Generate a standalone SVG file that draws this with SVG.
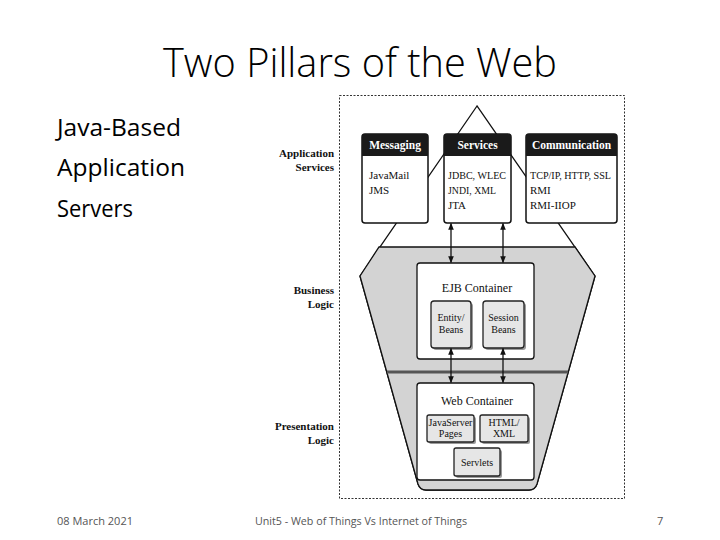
<svg xmlns="http://www.w3.org/2000/svg" width="720" height="540" viewBox="0 0 720 540">
<defs>
<style>
.slide{font-family:"Open Sans","Noto Sans","Liberation Sans",sans-serif;fill:#000}
.foot{font-family:"Open Sans","Liberation Sans",sans-serif;font-size:11px;fill:#555}
.lbl{font-family:"Liberation Serif","DejaVu Serif",serif;font-size:11px;font-weight:bold;fill:#111;text-anchor:end}
.hd{font-family:"Liberation Serif","DejaVu Serif",serif;font-size:11.5px;font-weight:bold;fill:#fff;text-anchor:middle}
.bt{font-family:"Liberation Serif","DejaVu Serif",serif;font-size:11px;fill:#111}
.ct{font-family:"Liberation Serif","DejaVu Serif",serif;font-size:12px;fill:#111;text-anchor:middle}
.st{font-family:"Liberation Serif","DejaVu Serif",serif;font-size:10px;fill:#111;text-anchor:middle}
.box{fill:#fff;stroke:#111;stroke-width:1.5}
.cont{fill:#fff;stroke:#111;stroke-width:1.3}
.sub{fill:#e6e6e6;stroke:#222;stroke-width:1.3}
.shadow{fill:#9a9a9a}
.arr{stroke:#111;stroke-width:1.3;fill:none;marker-start:url(#ah);marker-end:url(#ah)}
</style>
<marker id="ah" viewBox="0 0 10 10" refX="9" refY="5" markerWidth="7" markerHeight="9" orient="auto-start-reverse" markerUnits="userSpaceOnUse">
<path d="M0,1 L10,5 L0,9 Z" fill="#111"/>
</marker>
</defs>
<rect width="720" height="540" fill="#fff"/>

<text class="slide" x="360" y="77" font-size="40" text-anchor="middle" textLength="394" lengthAdjust="spacingAndGlyphs" font-weight="300">Two Pillars of the Web</text>
<text class="slide" x="57" y="136" font-size="24" textLength="124" lengthAdjust="spacingAndGlyphs">Java-Based</text>
<text class="slide" x="57" y="176" font-size="24" textLength="128" lengthAdjust="spacingAndGlyphs">Application</text>
<text class="slide" x="57" y="217" font-size="24" textLength="76" lengthAdjust="spacingAndGlyphs">Servers</text>

<text class="foot" x="57" y="525">08 March 2021</text>
<text class="foot" x="361" y="525" text-anchor="middle" textLength="212" lengthAdjust="spacingAndGlyphs">Unit5 - Web of Things Vs Internet of Things</text>
<text class="foot" x="657" y="525">7</text>

<!-- dotted frame -->
<rect x="339.5" y="95.5" width="285" height="403" fill="none" stroke="#333" stroke-width="1" stroke-dasharray="2,1.5"/>

<!-- layer labels -->
<g id="lbl-app"><text class="lbl" x="334" y="157">Application</text><text class="lbl" x="334" y="171">Services</text></g>
<g id="lbl-bus"><text class="lbl" x="334" y="294">Business</text><text class="lbl" x="334" y="308">Logic</text></g>
<g id="lbl-pres"><text class="lbl" x="334" y="430">Presentation</text><text class="lbl" x="334" y="444">Logic</text></g>

<!-- hull -->
<g id="hull">
<path d="M477,106 L360,276 L418,484 Q420,490 426,490 L529,490 Q535,490 537,484 L595,276 Z" fill="#fff" stroke="#111" stroke-width="1.3"/>
<path d="M379,247 L575,247 L595,276 L537,484 Q535,490 529,490 L426,490 Q420,490 418,484 L360,276 Z" fill="#d3d3d3" stroke="#111" stroke-width="1.3"/>
<line x1="387" y1="372" x2="568" y2="372" stroke="#555" stroke-width="3"/>
</g>

<!-- application services boxes -->
<g id="messaging">
<rect class="box" x="362" y="134" width="66" height="89" rx="3"/>
<path d="M362,156 L362,137 Q362,134 365,134 L425,134 Q428,134 428,137 L428,156 Z" fill="#1a1a1a"/>
<text class="hd" x="395" y="149">Messaging</text>
<text class="bt" x="369" y="179">JavaMail</text>
<text class="bt" x="369" y="194">JMS</text>
</g>
<g id="services">
<rect class="box" x="444" y="134" width="67" height="89" rx="3"/>
<path d="M444,156 L444,137 Q444,134 447,134 L508,134 Q511,134 511,137 L511,156 Z" fill="#1a1a1a"/>
<text class="hd" x="477.5" y="149">Services</text>
<text class="bt" x="448" y="179" textLength="58" lengthAdjust="spacingAndGlyphs">JDBC, WLEC</text>
<text class="bt" x="448" y="194" textLength="48" lengthAdjust="spacingAndGlyphs">JNDI, XML</text>
<text class="bt" x="448" y="209">JTA</text>
</g>
<g id="communication">
<rect class="box" x="526" y="134" width="91" height="89" rx="3"/>
<path d="M526,156 L526,137 Q526,134 529,134 L614,134 Q617,134 617,137 L617,156 Z" fill="#1a1a1a"/>
<text class="hd" x="571.5" y="149">Communication</text>
<text class="bt" x="530" y="179" textLength="81" lengthAdjust="spacingAndGlyphs">TCP/IP, HTTP, SSL</text>
<text class="bt" x="530" y="194">RMI</text>
<text class="bt" x="530" y="209">RMI-IIOP</text>
</g>

<!-- EJB container -->
<g id="ejb-container">
<rect class="cont" x="417" y="263" width="117" height="96" rx="3"/>
<text class="ct" x="477" y="292">EJB Container</text>
</g>
<g id="entity-beans">
<rect class="shadow" x="433" y="303" width="40" height="47" rx="3"/>
<rect class="sub" x="431" y="301" width="40" height="47" rx="3"/>
<text class="st" x="451" y="321">Entity/</text>
<text class="st" x="451" y="333">Beans</text>
</g>
<g id="session-beans">
<rect class="shadow" x="485" y="303" width="41" height="47" rx="3"/>
<rect class="sub" x="483" y="301" width="41" height="47" rx="3"/>
<text class="st" x="503.5" y="321">Session</text>
<text class="st" x="503.5" y="333">Beans</text>
</g>

<!-- Web container -->
<g id="web-container">
<rect class="cont" x="417" y="383" width="117" height="97" rx="3"/>
<text class="ct" x="477" y="405">Web Container</text>
</g>
<g id="jsp">
<rect class="shadow" x="429" y="417" width="47" height="27" rx="2"/>
<rect class="sub" x="427" y="415" width="47" height="27" rx="2"/>
<text class="st" x="450.5" y="426">JavaServer</text>
<text class="st" x="450.5" y="437">Pages</text>
</g>
<g id="html-xml">
<rect class="shadow" x="482" y="417" width="48" height="27" rx="2"/>
<rect class="sub" x="480" y="415" width="48" height="27" rx="2"/>
<text class="st" x="504" y="426">HTML/</text>
<text class="st" x="504" y="437">XML</text>
</g>
<g id="servlets">
<rect class="shadow" x="456" y="450" width="46" height="28" rx="2"/>
<rect class="sub" x="454" y="448" width="46" height="28" rx="2"/>
<text class="st" x="477" y="466">Servlets</text>
</g>

<!-- connectors -->
<g id="connectors">
<line class="arr" x1="451" y1="223.5" x2="451" y2="262.5"/>
<line class="arr" x1="503" y1="223.5" x2="503" y2="262.5"/>
<line class="arr" x1="451" y1="348.5" x2="451" y2="382.5"/>
<line class="arr" x1="503" y1="348.5" x2="503" y2="382.5"/>
</g>
</svg>
